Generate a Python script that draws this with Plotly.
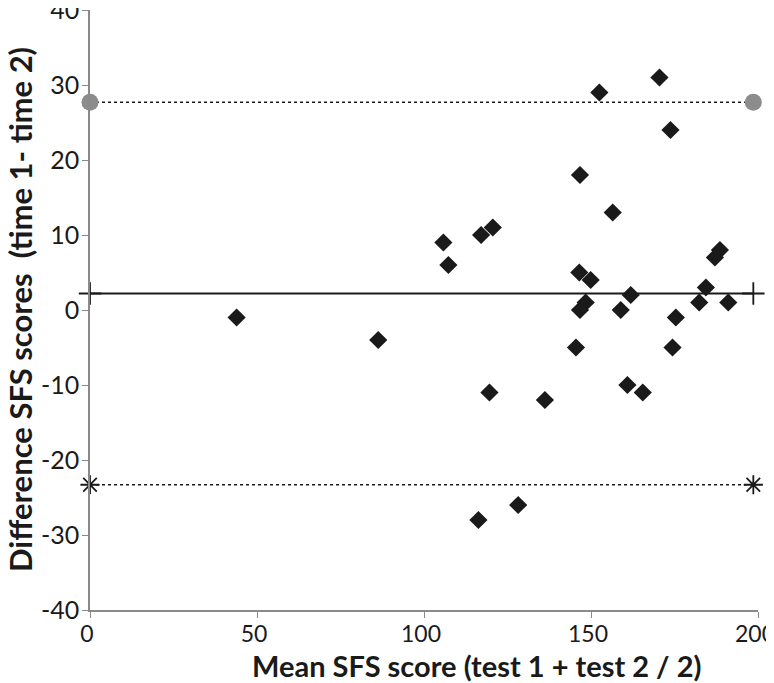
import plotly.graph_objects as go

# mean SFS score (x) and difference time1 - time2 (y)
mean_score = [43.9, 86.3, 105.8, 107.3, 117.1, 120.6, 119.6, 136.2, 116.3, 128.2,
              146.5, 149.9, 148.4, 146.7, 145.5, 152.5, 170.5, 173.8, 146.7, 156.5,
              188.6, 187.1, 161.9, 158.9, 184.4, 182.4, 191.1, 175.4, 174.4, 160.9, 165.5]
diff_score = [-1, -4, 9, 6, 10, 11, -11, -12, -28, -26,
              5, 4, 1, 0, -5, 29, 31, 24, 18, 13,
              8, 7, 2, 0, 3, 1, 1, -1, -5, -10, -11]

# bland-altman reference lines
line_x = [0, 198.6]
mean_diff = 2.2
upper_loa = 27.7
lower_loa = -23.3

x_ticks = [0, 50, 100, 150, 200]
y_ticks = [-40, -30, -20, -10, 0, 10, 20, 30, 40]
y_tick_labels = ['-40', '-30', '-20', '-10', '0', '10', '20', '30', '40']

x_title = 'Mean SFS score (test 1 + test 2 / 2)'
y_title = 'Difference SFS scores  (time 1- time 2)'

ink = '#1a1a1a'
axis_grey = '#8a8a8a'
font_name = 'Lato'

fig = go.Figure()
fig.add_trace(go.Scatter(x=line_x, y=[upper_loa, upper_loa],
                         mode='lines+markers',
                         line=dict(color=ink, width=1.5, dash='dot'),
                         marker=dict(symbol='circle', size=17, color='#8c8c8c'),
                         cliponaxis=False, showlegend=False))
fig.add_trace(go.Scatter(x=line_x, y=[lower_loa, lower_loa],
                         mode='lines+markers',
                         line=dict(color=ink, width=1.5, dash='dot'),
                         marker=dict(symbol='asterisk-open', size=16,
                                     line=dict(color='#555555', width=1.8)),
                         cliponaxis=False, showlegend=False))
fig.add_trace(go.Scatter(x=line_x, y=[mean_diff, mean_diff],
                         mode='lines+markers',
                         line=dict(color=ink, width=2),
                         marker=dict(symbol='cross-thin-open', size=16,
                                     line=dict(color='#777777', width=1.8)),
                         cliponaxis=False, showlegend=False))
fig.add_trace(go.Scatter(x=mean_score, y=diff_score,
                         mode='markers',
                         marker=dict(symbol='diamond', size=14, color=ink),
                         cliponaxis=False, showlegend=False))

# page body adds an 8px offset, so the figure is a little smaller than the window
fig.update_layout(width=766, height=675,
                  margin=dict(l=82, r=16, t=2, b=73, autoexpand=False),
                  plot_bgcolor='white',
                  paper_bgcolor='white',
                  font=dict(family=font_name, color=ink, size=25))

# axis titles placed as annotations so the plot area stays fixed
fig.add_annotation(text='<b>' + x_title + '</b>',
                   xref='paper', yref='paper', x=0.579, y=0,
                   xanchor='center', yanchor='middle', yshift=-55,
                   showarrow=False, font=dict(size=29))
fig.add_annotation(text='<b>' + y_title + '</b>',
                   xref='paper', yref='paper', x=0, y=0.5,
                   xanchor='center', yanchor='middle', xshift=-70,
                   textangle=-90,
                   showarrow=False, font=dict(size=31))

fig.update_xaxes(range=[0, 200],
                 tickvals=x_ticks,
                 showgrid=False,
                 zeroline=False,
                 showline=True,
                 linecolor=axis_grey,
                 linewidth=1.5,
                 ticks='outside',
                 ticklen=6,
                 tickcolor=axis_grey,
                 tickfont=dict(size=23),
                 ticklabelshift=-3,
                 ticklabelstandoff=-3,
                 ticklabeloverflow='allow',
                 automargin=False)
fig.update_yaxes(range=[-40, 40],
                 tickvals=y_ticks,
                 ticktext=y_tick_labels,
                 showgrid=False,
                 zeroline=False,
                 showline=True,
                 linecolor=axis_grey,
                 linewidth=1.5,
                 ticks='outside',
                 ticklen=6,
                 tickcolor=axis_grey,
                 ticklabelstandoff=-2,
                 ticklabeloverflow='allow',
                 automargin=False)

fig.write_html("out.html")
